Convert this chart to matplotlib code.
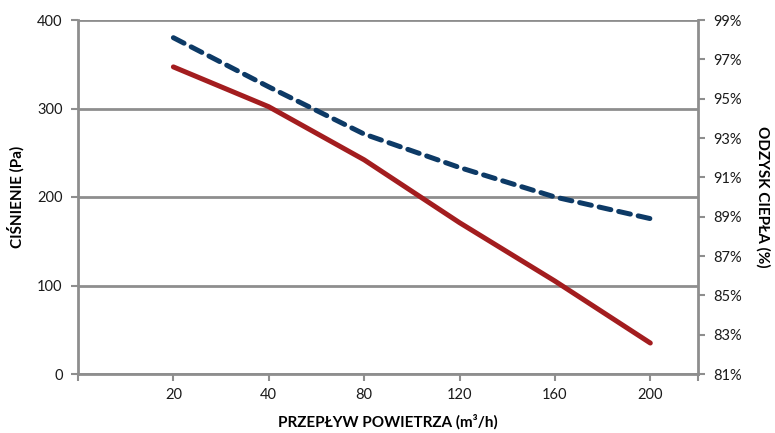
import numpy as np
import matplotlib.pyplot as plt
from matplotlib.ticker import FixedLocator, FuncFormatter

plt.rcParams['font.family'] = ['Lato', 'DejaVu Sans']

# dane
flow_labels = ["20", "40", "80", "120", "160", "200"]
pressure = [347, 302, 242, 171, 105, 35]          # Pa, lewa oś
recovery = [98.1, 95.6, 93.2, 91.5, 90.0, 88.9]   # %, prawa oś

left_ticks = [0, 100, 200, 300, 400]
right_ticks = [81, 83, 85, 87, 89, 91, 93, 95, 97, 99]

RED = "#A31D1F"
BLUE = "#0D3A66"
GRID = "#8E8E8E"

fig = plt.figure(figsize=(7.75, 4.33), dpi=100)
ax = fig.add_axes([78 / 775, 59 / 433, 620 / 775, 354 / 433])
ax2 = ax.twinx()

pos = np.arange(1, len(flow_labels) + 1)

ax.plot(pos, pressure, color=RED, lw=3.6, solid_capstyle='round', zorder=3)
ax2.plot(pos, recovery, color=BLUE, lw=3.6, ls=(0, (2.4, 1.6)),
         dash_capstyle='round', zorder=3)

ax.set_xlim(0, 6.5)
ax.set_ylim(0, 400)
ax2.set_ylim(81, 99)

ax.set_xticks(list(pos))
ax.set_xticklabels(flow_labels)
ax.xaxis.set_minor_locator(FixedLocator([0, 6.5]))
ax.set_yticks(left_ticks)
ax2.set_yticks(right_ticks)
ax2.yaxis.set_major_formatter(FuncFormatter(lambda v, p: f"{v:.0f}%"))

ax.grid(axis='y', color=GRID, lw=2)
ax.set_axisbelow(True)

for a in (ax, ax2):
    for s in a.spines.values():
        s.set_color(GRID)
        s.set_linewidth(2)
    a.spines['top'].set_visible(False)
    a.tick_params(colors=GRID, width=1.5, length=5, labelcolor='#1a1a1a',
                  labelsize=10.5, which='both')
ax.tick_params(axis='y', pad=6)
ax.tick_params(axis='x', pad=5)
ax2.tick_params(axis='y', pad=6)
ax.spines['right'].set_visible(False)
ax2.spines['left'].set_visible(False)
ax2.spines['bottom'].set_visible(False)

ax.set_ylabel("CIŚNIENIE (Pa)", fontsize=11, fontweight='bold', labelpad=9)
ax2.set_ylabel("ODZYSK CIEPŁA (%)", fontsize=11, fontweight='bold',
               rotation=-90, labelpad=20)
ax.set_xlabel("PRZEPŁYW POWIETRZA (m³/h)", fontsize=11, fontweight='bold',
              labelpad=9)

fig.savefig("out.png", dpi=100)
